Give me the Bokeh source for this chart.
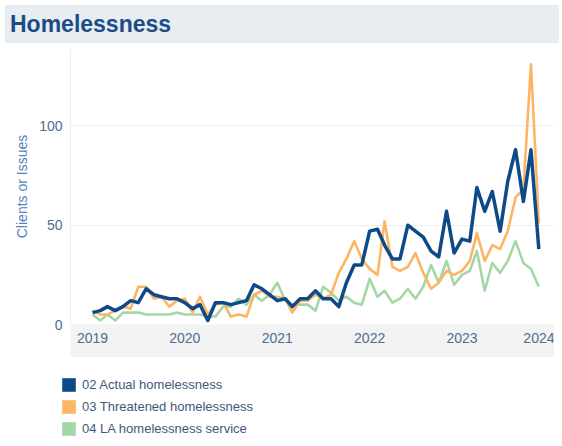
import datetime as dt
from bokeh.plotting import figure
from bokeh.models import (Range1d, FixedTicker, DatetimeTickFormatter, Legend,
                          LegendItem, Div, ColumnDataSource)
from bokeh.layouts import column
from bokeh.embed import file_html
from bokeh.resources import INLINE

# ---- data -------------------------------------------------------------
months = [dt.datetime(2019 + i // 12, 1 + i % 12, 1) for i in range(59)]  # Jan 2019 .. Nov 2023

actual = [6, 7, 9, 7, 9, 12, 11, 18, 15, 14, 13, 13, 11, 8, 10, 2, 11, 11, 10, 11,
          12, 20, 18, 15, 12, 13, 9, 13, 13, 17, 13, 13, 9, 21, 30, 30, 47, 48, 40, 33,
          33, 50, 47, 44, 37, 34, 57, 36, 43, 42, 69, 57, 67, 47, 72, 88, 62, 88, 38]
threatened = [7, 5, 5, 7, 9, 8, 19, 19, 13, 14, 9, 12, 13, 6, 14, 5, 10, 11, 4, 5,
              4, 15, 17, 14, 14, 13, 6, 12, 12, 15, 13, 15, 26, 33, 42, 33, 28, 25, 52, 29,
              27, 29, 36, 26, 18, 21, 27, 25, 27, 32, 46, 32, 40, 38, 47, 64, 68, 131, 51]
la_service = [5, 2, 5, 2, 6, 6, 6, 5, 5, 5, 5, 6, 5, 5, 5, 4, 4, 9, 9, 13,
              10, 15, 12, 15, 21, 12, 10, 10, 10, 7, 19, 16, 12, 14, 11, 10, 23, 14, 17, 11,
              13, 18, 13, 19, 30, 21, 32, 20, 25, 27, 37, 17, 31, 26, 32, 42, 31, 28, 19]

series_names = ["02 Actual homelessness", "03 Threatened homelessness",
                "04 LA homelessness service"]
series_colors = ["#0f4a88", "#fdb563", "#a3d7a5"]
tick_years = [2019, 2020, 2021, 2022, 2023, 2024]
y_ticks = [0, 50, 100]

FONT = "Liberation Sans"
TICK_COLOR = "#4f6d92"
W = 554

# ---- title band -------------------------------------------------------
title = Div(
    text=('<div style="background:#e8edf2;width:554px;height:38px;box-sizing:border-box;'
          'padding-left:5px;font-family:\'Liberation Sans\';font-weight:bold;'
          'font-size:23px;line-height:38px;color:#1b4c88;">Homelessness</div>'),
    width=W, height=38)

# ---- main chart -------------------------------------------------------
p = figure(x_axis_type="datetime", width=W, frame_height=276,
           min_border_left=70, min_border_right=0, min_border_top=0,
           min_border_bottom=0, frame_align=False,
           x_range=Range1d(dt.datetime(2018, 10, 6), dt.datetime(2024, 1, 2)),
           y_range=Range1d(0, 139),
           output_backend="svg", toolbar_location=None)

p.outline_line_color = None
p.background_fill_color = "white"
p.border_fill_color = "white"
p.xgrid.grid_line_color = None
p.ygrid.grid_line_color = "#eeeeee"
p.ygrid.grid_line_width = 1

# x axis
p.xaxis.ticker = FixedTicker(ticks=[dt.datetime(y, 1, 1).replace(tzinfo=dt.timezone.utc).timestamp() * 1000
                                    for y in tick_years])
p.xaxis.formatter = DatetimeTickFormatter(years="%Y", months="%Y", days="%Y",
                                          hours="%Y", minutes="%Y")
p.xaxis.axis_line_color = None
p.xaxis.major_tick_line_color = None
p.xaxis.minor_tick_line_color = None
p.xaxis.major_tick_out = 0
p.xaxis.major_tick_in = 0
p.xaxis.minor_tick_out = 0
p.xaxis.major_label_standoff = 8
p.xaxis.major_label_text_font = FONT
p.xaxis.major_label_text_font_size = "14px"
p.xaxis.major_label_text_color = TICK_COLOR
p.xaxis.axis_label = " "
p.xaxis.axis_label_text_font_size = "8px"
p.xaxis.axis_label_standoff = 0
p.xaxis.background_fill_color = "#f3f3f3"

# y axis
p.yaxis.ticker = FixedTicker(ticks=y_ticks)
p.yaxis.axis_line_color = "#eeeeee"
p.yaxis.major_tick_line_color = None
p.yaxis.minor_tick_line_color = None
p.yaxis.major_tick_out = 0
p.yaxis.major_tick_in = 0
p.yaxis.minor_tick_out = 0
p.yaxis.major_label_standoff = 8
p.yaxis.major_label_text_font = FONT
p.yaxis.major_label_text_font_size = "14px"
p.yaxis.major_label_text_color = TICK_COLOR
p.yaxis.axis_label = "Clients or Issues"
p.yaxis.axis_label_text_font = FONT
p.yaxis.axis_label_text_font_style = "normal"
p.yaxis.axis_label_text_font_size = "14px"
p.yaxis.axis_label_text_color = "#5283bd"
p.yaxis.axis_label_standoff = 6

# lines (green under orange under blue)
series = [actual, threatened, la_service]
for idx in [2, 1, 0]:
    p.line(months, series[idx], line_color=series_colors[idx],
           line_width=3.5 if idx == 0 else 2.6, line_join="round")

# ---- legend (own small figure below the chart) ------------------------
lf = figure(width=W, height=81, min_border=0, x_range=(0, 1), y_range=(0, 1),
            x_axis_location=None, y_axis_location=None, frame_align=False,
            output_backend="svg", toolbar_location=None)
lf.outline_line_color = None
lf.grid.grid_line_color = None

nan = float("nan")
items = []
for name, col in zip(series_names, series_colors):
    src = ColumnDataSource(dict(l=[nan], r=[nan], t=[nan], b=[nan]))
    q = lf.quad(left="l", right="r", top="t", bottom="b", source=src,
                fill_color=col, line_color=None)
    items.append(LegendItem(label=name, renderers=[q]))

legend = Legend(items=items, location=(60, 1), orientation="vertical",
                padding=0, margin=0, spacing=5, glyph_width=17, glyph_height=17,
                label_height=17, label_standoff=5,
                label_text_font=FONT, label_text_font_size="13px",
                label_text_color="#41587a",
                border_line_color=None, background_fill_alpha=0)
lf.add_layout(legend)

layout = column(title, p, lf)
open("out.html", "w").write(file_html(layout, INLINE))
